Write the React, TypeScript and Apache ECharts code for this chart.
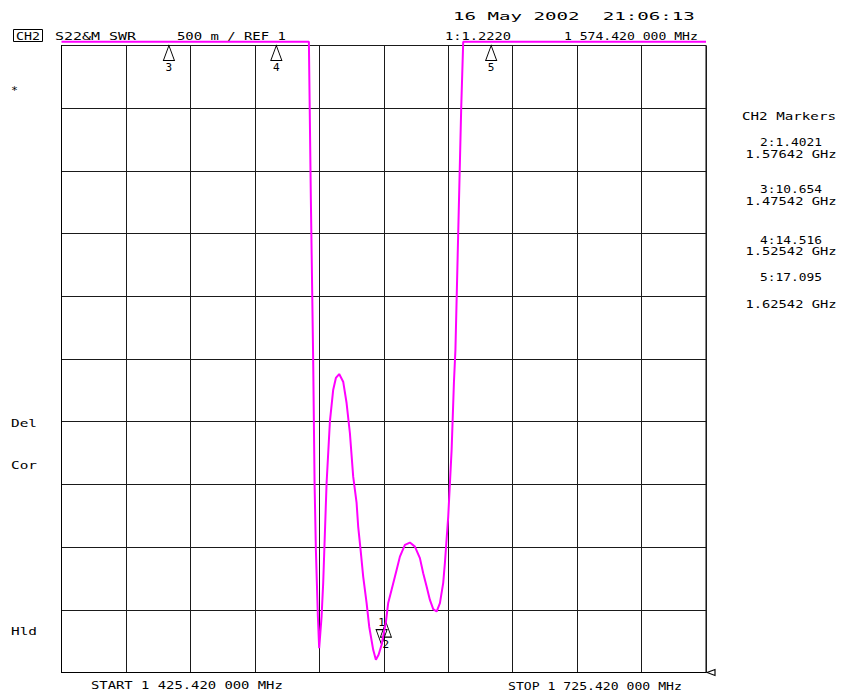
import React, { useEffect, useRef } from "react";
import * as echarts from "echarts";

// ---- Sweep settings ----
const START_MHZ = 1425.42;
const STOP_MHZ = 1725.42;
const X_DIV_MHZ = 30;
const Y_MIN = 1; // REF 1
const Y_MAX = 6;
const Y_DIV = 0.5; // 500 m / div

const TRACE_FREQ_MHZ = [
  1425.42, 1540.57, 1541.5, 1542.57, 1543.22, 1543.83, 1544.76, 1545.36, 1546.48,
  1547.23, 1548.81, 1550.35, 1551.88, 1553.14, 1554.68, 1556.54, 1558.12, 1559.66,
  1561.2, 1562.78, 1563.52, 1564.64, 1565.85, 1567.43, 1568.64, 1570.51, 1571.76,
  1573.02, 1574.42, 1576.42, 1577.49, 1579.07, 1581.4, 1582.94, 1585.27, 1587.59,
  1589.92, 1592.25, 1593.79, 1595.37, 1596.91, 1598.45, 1600.03, 1601.57, 1603.1,
  1603.89, 1605.43, 1607.01, 1608.08, 1608.78, 1610.09, 1611.48, 1612.41, 1725.42,
];
const TRACE_SWR = [
  6.03, 6.03, 4.767, 3.492, 2.509, 1.978, 1.446, 1.194, 1.446,
  1.712, 2.509, 3.0, 3.253, 3.349, 3.38, 3.319, 3.149, 2.91,
  2.562, 2.352, 2.164, 1.978, 1.765, 1.555, 1.367, 1.181, 1.101,
  1.141, 1.222, 1.402, 1.555, 1.659, 1.818, 1.924, 2.018, 2.036,
  2.004, 1.912, 1.792, 1.685, 1.579, 1.505, 1.486, 1.553, 1.715,
  1.874, 2.243, 2.775, 3.309, 3.572, 4.51, 5.506, 6.03, 6.03,
];

// ---- Markers ----
const MARKER_IDS = [1, 2, 3, 4, 5];
const MARKER_FREQS_MHZ = [1574.42, 1576.42, 1475.42, 1525.42, 1625.42];
const MARKER_SWR = [1.222, 1.4021, 10.654, 14.516, 17.095];

// ---- Annotation texts ----
const TITLE_CHANNEL = "CH2";
const TITLE_MEAS = "S22&M SWR";
const TITLE_SCALE = "500 m / REF 1";
const DATE_TEXT = "16 May 2002  21:06:13";
const SOFTKEY_LABELS = ["Del", "Cor", "Hld"];

const MONO = '"DejaVu Sans Mono", "Liberation Mono", monospace';
const FS = 11;

function fmtMHz(f: number) {
  const s = f.toFixed(6);
  const [ip, fp] = s.split(".");
  const intPart = ip.length > 3 ? ip.slice(0, ip.length - 3) + " " + ip.slice(-3) : ip;
  return `${intPart}.${fp.slice(0, 3)} ${fp.slice(3)}`;
}

function txt(text: string, x: number, y: number, width: number, align: string = "left", fs: number = FS) {
  const sx = width / (text.length * 0.602 * fs);
  return {
    type: "text",
    x,
    y,
    scaleX: sx,
    silent: true,
    style: {
      text,
      fontFamily: MONO,
      fontSize: fs,
      fill: "#000",
      textAlign: align,
      align,
      textVerticalAlign: "middle",
      verticalAlign: "middle",
    },
  };
}

export default function App() {
  const ref = useRef<HTMLDivElement>(null);

  useEffect(() => {
    if (!ref.current) return;
    const chart = echarts.init(ref.current, undefined, { renderer: "svg" });

    const data = TRACE_FREQ_MHZ.map((f, i) => [f - START_MHZ, TRACE_SWR[i]]);

    const markData: any[] = MARKER_IDS.map((id, i) => {
      const active = i === 0;
      return {
        name: "M" + id,
        coord: [MARKER_FREQS_MHZ[i] - START_MHZ, Math.min(MARKER_SWR[i], Y_MAX)],
        symbol: active ? "path://M0,0L10,0L5,15Z" : "path://M5,0L10,15L0,15Z",
        symbolSize: [11, 15],
        symbolKeepAspect: false,
        symbolOffset: [0, active ? -7.5 : 7.5],
        itemStyle: { color: "rgba(0,0,0,0)", borderColor: "#000", borderWidth: 1 },
        label: {
          show: true,
          formatter: String(id),
          position: active ? "top" : "bottom",
          distance: 1,
          color: "#000",
          fontFamily: MONO,
          fontSize: FS,
        },
      };
    });
    // reference-level pointer at the right edge
    markData.push({
      name: "ref",
      coord: [STOP_MHZ - START_MHZ, Y_MIN],
      symbol: "path://M0,3L8,0L8,6Z",
      symbolSize: [8, 6],
      symbolKeepAspect: false,
      symbolOffset: [5, 0],
      itemStyle: { color: "rgba(0,0,0,0)", borderColor: "#000", borderWidth: 1 },
      label: { show: false },
    });

    const active = 0;
    const rightPanel: any[] = [txt(`${TITLE_CHANNEL} Markers`, 789, 116, 94, "center")];
    const panelY = [
      [142, 154],
      [189, 201],
      [240, 251],
      [277, 304],
    ];
    MARKER_IDS.slice(1).forEach((id, k) => {
      const i = k + 1;
      const l1 = `${id}:${MARKER_SWR[i].toPrecision(5)}`;
      const l2 = `${(MARKER_FREQS_MHZ[i] / 1000).toFixed(5)} GHz`;
      rightPanel.push(txt(l1, 791, panelY[k][0], 62, "center"));
      rightPanel.push(txt(l2, 791, panelY[k][1], 91, "center"));
    });

    const graphics: any[] = [
      {
        type: "rect",
        shape: { x: 13.5, y: 29.5, width: 29, height: 12 },
        style: { fill: "none", stroke: "#000", lineWidth: 1 },
        silent: true,
      },
      txt(TITLE_CHANNEL, 28, 36, 24, "center"),
      txt(TITLE_MEAS, 55, 36, 81),
      txt(TITLE_SCALE, 177, 36, 109),
      txt(DATE_TEXT, 453, 16, 242),
      txt(`${MARKER_IDS[active]}:${MARKER_SWR[active].toFixed(4)}`, 445, 36, 66),
      txt(`${fmtMHz(MARKER_FREQS_MHZ[active])} MHz`, 564, 36, 134),
      txt("*", 11, 91, 7),
      txt(SOFTKEY_LABELS[0], 11, 423, 26),
      txt(SOFTKEY_LABELS[1], 11, 465, 26),
      txt(SOFTKEY_LABELS[2], 11, 631, 26),
      txt(`START ${fmtMHz(START_MHZ)} MHz`, 91, 685, 192),
      txt(`STOP ${fmtMHz(STOP_MHZ)} MHz`, 508, 686, 174),
      ...rightPanel,
    ];

    chart.setOption({
      animation: false,
      backgroundColor: "#fff",
      grid: {
        left: 61.5,
        top: 45.5,
        width: 644.5,
        height: 627,
        show: true,
        borderColor: "#000",
        borderWidth: 1,
        backgroundColor: "transparent",
      },
      xAxis: {
        type: "value",
        min: 0,
        max: STOP_MHZ - START_MHZ,
        interval: X_DIV_MHZ,
        axisLine: { show: true, lineStyle: { color: "#000", width: 1 } },
        axisTick: { show: false },
        axisLabel: { show: false },
        splitLine: { show: true, lineStyle: { color: "#1a1a1a", width: 1 } },
      },
      yAxis: {
        type: "value",
        min: Y_MIN,
        max: Y_MAX,
        interval: Y_DIV,
        axisLine: { show: true, lineStyle: { color: "#000", width: 1 } },
        axisTick: { show: false },
        axisLabel: { show: false },
        splitLine: { show: true, lineStyle: { color: "#1a1a1a", width: 1 } },
      },
      series: [
        {
          type: "line",
          data,
          showSymbol: false,
          symbol: "none",
          clip: false,
          silent: true,
          z: 5,
          lineStyle: { color: "#ff00ff", width: 2 },
          markPoint: {
            silent: true,
            animation: false,
            data: markData,
          },
        },
      ],
      graphic: graphics,
    });

    return () => chart.dispose();
  }, []);

  return (
    <div
      ref={ref}
      style={{ position: "fixed", left: 0, top: 0, width: 841, height: 693, background: "#fff" }}
    />
  );
}
